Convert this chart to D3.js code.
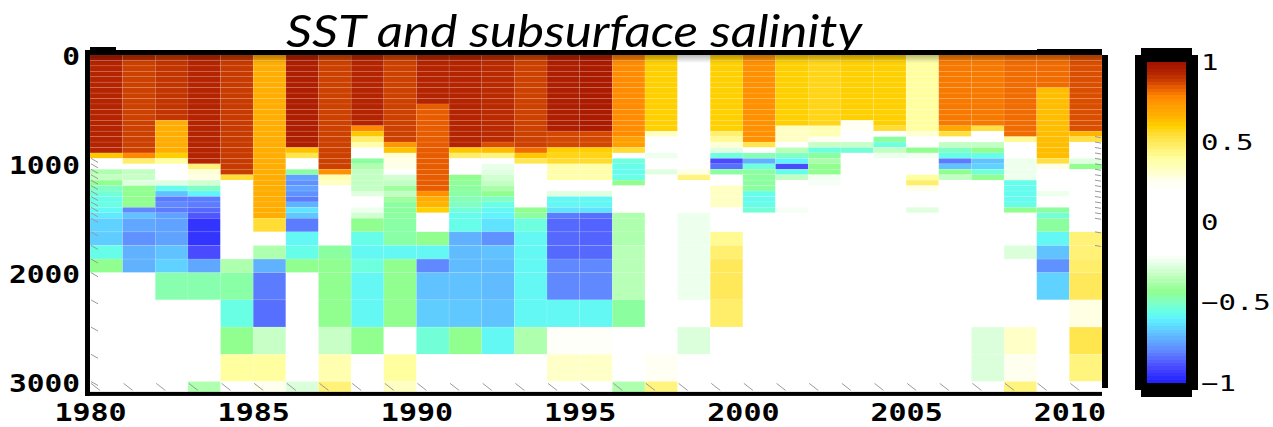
<!DOCTYPE html>
<html>
<head>
<meta charset="utf-8">
<script src="https://cdn.jsdelivr.net/npm/d3@7"></script>
<style>
  html, body { margin: 0; background: #fff; }
  svg { display: block; }
</style>
</head>
<body>
<div id="chart"></div>
<script>
// years on x, one column each (year .. year+1)
const years = [1980, 1981, 1982, 1983, 1984, 1985, 1986, 1987, 1988, 1989, 1990,
  1991, 1992, 1993, 1994, 1995, 1996, 1997, 1998, 1999, 2000,
  2001, 2002, 2003, 2004, 2005, 2006, 2007, 2008, 2009, 2010];

// depth layer edges (m)
const depthEdges = [0, 50, 100, 150, 200, 250, 300, 350, 400, 450, 500,
  550, 600, 650, 700, 750, 800, 850, 900, 950, 1000,
  1050, 1100, 1150, 1200, 1250, 1300, 1350, 1400, 1450, 1500,
  1625, 1750, 1875, 2000, 2250, 2500, 2750, 3000, 3100];

const depthTicks = [0, 1000, 2000, 3000];
const yearTicks = [1980, 1985, 1990, 1995, 2000, 2005, 2010];
const barTicks = [1, 0.5, 0, -0.5, -1];
const title = "SST and subsurface salinity";

// one column per year, rows top -> bottom (39 layers)
const d1980 = [.97,.93,.93,.93,.93,.93,.93,.93,.93,.93,
  .93,.93,.93,.93,.93,.93,.93,.93,.62,0,
  0,-.37,-.33,-.43,-.5,-.53,-.56,-.55,-.58,-.62,
  -.66,-.67,-.56,-.43,0,0,0,0,0];
const d1981 = [.92,.88,.88,.88,.88,.88,.88,.88,.88,.88,
  .88,.88,.88,.88,.88,.88,.88,.88,.78,.48,
  0,-.33,-.32,-.27,-.43,-.43,-.43,-.43,-.8,-.69,
  -.74,-.78,-.72,-.72,0,0,0,0,0];
const d1982 = [.9,.9,.9,.9,.9,.9,.9,.9,.9,.9,
  .9,.9,.68,.68,.68,.68,.68,.68,.6,.4,
  0,0,0,-.27,-.57,-.69,-.82,-.8,-.82,-.75,
  -.75,-.75,-.69,-.66,-.47,0,0,0,0];
const d1983 = [.93,.93,.93,.93,.93,.93,.93,.93,.93,.93,
  .93,.93,.93,.93,.93,.93,.93,.93,.93,.93,
  .46,.3,.28,-.3,-.5,-.6,-.82,-.82,-.85,-.88,
  -.95,-.95,-.9,-.74,-.47,0,0,0,-.37];
const d1984 = [.9,.89,.89,.89,.89,.89,.89,.89,.89,.89,
  .89,.89,.89,.89,.89,.89,.89,.89,.89,.89,
  .89,.89,.55,0,0,0,0,0,0,0,
  0,0,0,-.37,-.46,-.55,-.43,.4,0];
const d1985 = [.7,.68,.68,.68,.68,.68,.68,.68,.68,.68,
  .68,.68,.68,.68,.68,.68,.68,.68,.68,.68,
  .68,.68,.68,.68,.68,.68,.68,.68,.68,.68,
  .55,0,-.37,-.72,-.82,-.84,-.32,.4,.26];
const d1986 = [.95,.95,.95,.95,.95,.95,.95,.95,.95,.95,
  .95,.95,.95,.95,.95,.95,.95,.63,.52,0,
  0,-.45,-.75,-.78,-.75,-.78,-.82,-.72,-.63,-.68,
  -.82,-.58,-.56,-.43,0,0,0,0,-.28];
const d1987 = [.88,.88,.88,.88,.88,.88,.88,.88,.88,.88,
  .88,.88,.88,.88,.88,.88,.88,.88,.88,.88,
  .88,.76,.37,.33,0,0,0,0,0,0,
  0,0,-.45,-.43,-.43,-.43,-.32,.37,.46];
const d1988 = [.93,.93,.93,.93,.93,.93,.93,.93,.93,.93,
  .93,.93,.93,.78,.62,.48,.38,0,0,-.45,
  -.37,-.33,-.33,-.33,-.33,-.27,0,0,-.24,-.3,
  -.43,-.56,-.58,-.54,-.58,-.58,-.43,0,0];
const d1989 = [.88,.88,.88,.88,.88,.88,.88,.88,.88,.88,
  .88,.88,.88,.88,.88,.88,.74,.63,.3,.28,
  .27,0,-.3,-.33,-.4,-.33,-.4,-.45,-.45,-.45,
  -.46,-.46,-.58,-.43,-.43,-.43,0,.4,.33];
const d1990 = [.93,.93,.93,.93,.93,.93,.93,.93,.93,.84,
  .84,.84,.84,.84,.84,.84,.84,.84,.84,.84,
  .84,.84,.84,.84,.84,.76,.68,.66,.6,0,
  0,-.43,-.58,-.8,-.69,-.67,-.53,0,0];
const d1991 = [.93,.93,.93,.93,.93,.93,.93,.93,.93,.93,
  .93,.93,.93,.93,.93,.93,.93,.62,.48,0,
  0,0,-.43,-.44,-.45,-.46,-.48,-.5,-.53,-.57,
  -.56,-.72,-.7,-.7,-.69,-.68,-.43,0,0];
const d1992 = [.92,.92,.92,.92,.92,.92,.92,.92,.92,.92,
  .92,.92,.92,.92,.92,.92,.86,.64,.45,0,
  -.25,-.27,-.3,-.33,-.38,-.43,-.5,-.55,-.58,-.6,
  -.63,-.78,-.69,-.7,-.7,-.69,-.58,0,0];
const d1993 = [.88,.88,.88,.88,.88,.88,.88,.88,.88,.88,
  .88,.88,.88,.88,.88,.88,.88,.82,.62,.52,
  0,0,0,0,0,0,0,0,-.43,-.45,
  -.54,-.58,-.58,-.58,-.58,-.58,-.37,0,0];
const d1994 = [.95,.95,.95,.95,.95,.95,.95,.95,.95,.95,
  .95,.95,.95,.95,.87,.87,.87,.6,.58,.56,
  .38,.38,.38,0,0,-.27,-.58,-.58,-.63,-.82,
  -.85,-.85,-.85,-.8,-.8,-.58,.22,.32,0];
const d1995 = [.96,.96,.96,.96,.96,.96,.96,.96,.96,.96,
  .96,.96,.96,.96,.87,.87,.87,.6,.58,.56,
  .38,.38,.38,0,0,-.27,-.58,-.58,-.63,-.84,
  -.86,-.86,-.85,-.8,-.8,-.58,.22,.32,0];
const d1996 = [.8,.77,.77,.77,.77,.77,.77,.77,.77,.77,
  .77,.77,.77,.77,.77,.72,.72,.55,0,-.54,
  -.56,-.57,-.55,-.43,0,0,0,0,0,-.37,
  -.37,-.37,-.35,-.35,-.35,-.45,0,0,-.37];
const d1997 = [.6,.6,.6,.6,.6,.6,.6,.6,.6,.6,
  .6,.6,.6,.6,.33,0,0,0,-.24,0,
  0,-.27,0,0,0,0,0,0,0,0,
  0,0,0,0,0,0,0,.25,.45];
const d1998 = [0,0,0,0,0,0,0,0,0,0,
  0,0,0,0,0,0,0,0,0,0,
  0,.28,.45,0,0,0,0,0,0,-.24,
  -.24,-.24,-.24,-.24,-.24,0,-.28,0,0];
const d1999 = [.6,.6,.6,.6,.6,.6,.6,.6,.6,.6,
  .6,.6,.6,.6,.47,.42,.3,-.27,-.54,-.9,
  -.84,-.45,0,0,.33,.33,.33,.33,0,0,
  0,.42,.47,.5,.5,.48,0,0,0];
const d2000 = [.76,.76,.76,.76,.76,.76,.76,.76,.76,.76,
  .76,.76,.76,.76,.76,.76,.52,0,-.48,-.72,
  -.54,-.45,-.45,-.45,-.45,-.56,-.57,-.56,-.53,0,
  0,0,0,0,0,0,0,0,0];
const d2001 = [.6,.6,.6,.6,.6,.6,.6,.6,.6,.6,
  .6,.6,.6,.33,.33,.33,0,-.35,-.5,-.6,
  -.9,-.56,-.33,0,0,0,0,0,-.22,0,
  0,0,0,0,0,0,0,0,0];
const d2002 = [.58,.58,.58,.58,.58,.58,.58,.58,.58,.58,
  .58,.58,.58,.36,.36,.26,-.32,-.54,-.45,-.38,
  -.43,-.43,-.23,-.22,0,0,0,0,0,0,
  0,0,0,0,0,0,0,0,0];
const d2003 = [.6,.6,.6,.6,.6,.6,.6,.6,.6,.6,
  .6,.6,.25,.25,0,0,-.32,-.53,0,0,
  0,0,0,0,0,0,0,0,0,0,
  0,0,0,0,0,0,0,0,0];
const d2004 = [.6,.6,.6,.6,.6,.6,.6,.6,.6,.6,
  .6,.6,.6,.55,0,-.45,-.54,-.33,-.24,0,
  0,0,0,0,0,0,0,0,0,0,
  0,0,0,0,0,0,0,0,0];
const d2005 = [.4,.4,.4,.4,.4,.4,.4,.4,.4,.4,
  .4,.4,.4,.4,.3,0,0,-.43,-.23,0,
  0,0,.4,.48,.27,0,0,0,-.27,0,
  0,0,0,0,0,0,0,0,0];
const d2006 = [.8,.8,.8,.8,.8,.8,.8,.8,.8,.8,
  .8,.8,.8,.7,.54,0,-.33,-.5,-.56,-.82,
  -.69,-.43,-.33,0,0,0,0,0,0,0,
  0,0,0,0,0,0,0,0,0];
const d2007 = [.8,.8,.8,.8,.8,.8,.8,.8,.8,.8,
  .8,.8,.8,.54,0,0,-.33,-.43,-.56,-.69,
  -.66,-.53,-.43,0,0,0,0,0,0,0,
  0,0,0,0,0,0,-.28,-.28,0];
const d2008 = [.82,.82,.82,.82,.82,.82,.82,.82,.82,.82,
  .82,.82,.82,.82,.82,.42,0,0,0,-.24,
  -.24,-.24,-.24,-.56,-.57,-.57,-.57,-.56,-.43,0,
  0,0,-.28,0,0,0,.32,.26,.45];
const d2009 = [.82,.82,.82,.82,.82,.82,.64,.64,.64,.64,
  .64,.64,.64,.64,.64,.64,.64,.64,.64,.54,
  .27,0,0,0,0,-.24,0,0,-.45,-.53,
  -.45,-.58,-.69,-.78,-.66,0,0,0,0];
const d2010 = [.86,.86,.86,.86,.86,.86,.86,.86,.86,.86,
  .86,.86,.86,.86,.66,.54,0,0,0,-.27,
  -.43,0,0,0,0,0,0,0,0,0,
  0,.46,.46,.48,.5,.28,.52,.45,0];

const columns = [d1980, d1981, d1982, d1983, d1984, d1985, d1986, d1987, d1988, d1989,
  d1990, d1991, d1992, d1993, d1994, d1995, d1996, d1997, d1998, d1999,
  d2000, d2001, d2002, d2003, d2004, d2005, d2006, d2007, d2008, d2009, d2010];

// colormap: white band in the middle
const cStops = [-1, -.9, -.8, -.7, -.6, -.55, -.5, -.43, -.35, -.27, -.2,
  .2, .26, .32, .4, .47, .54, .6, .66, .72, .78, .84, .88, .93, 1];
const cColors = ["#1e1eff", "#4a4aff", "#6088ff", "#60bcff", "#60f4ff", "#68ffe4", "#80ffc4",
  "#90ff90", "#b8ffb8", "#e0ffe0", "#ffffff", "#ffffff", "#fffff0", "#ffffc8", "#ffffa0",
  "#fff070", "#ffe040", "#ffd000", "#ffb400", "#ffa000", "#ff8800", "#e85c00", "#cc4000",
  "#b42400", "#a01000"];
const color = d3.scaleLinear().domain(cStops).range(cColors).clamp(true);

const W = 1273, H = 427;
const m = { l: 90, r: 1102, t: 55, b: 392.4 };
const mono = "'DejaVu Sans Mono', 'Liberation Mono', monospace";

const x = d3.scaleLinear().domain([1980, 2011]).range([m.l, m.r]);
const y = d3.scaleLinear().domain([0, 3100]).range([m.t, m.b]);

const svg = d3.select("#chart").append("svg")
  .attr("width", W).attr("height", H).attr("viewBox", `0 0 ${W} ${H}`);

const cells = [];
columns.forEach((col, i) => {
  if (col.length !== depthEdges.length - 1) console.warn("bad column", years[i], col.length);
  col.forEach((v, j) => cells.push({ year: years[i], top: depthEdges[j], bot: depthEdges[j + 1], v }));
});

svg.append("g").selectAll("rect").data(cells).join("rect")
  .attr("x", (d) => x(d.year))
  .attr("y", (d) => y(d.top))
  .attr("width", (d) => x(d.year + 1) - x(d.year))
  .attr("height", (d) => y(d.bot) - y(d.top))
  .attr("fill", (d) => color(d.v))
  .attr("stroke", "#fff").attr("stroke-opacity", .16).attr("stroke-width", .6);

// darker band along the sea surface
const defs = svg.append("defs");
const grad = defs.append("linearGradient").attr("id", "topShade")
  .attr("x1", 0).attr("x2", 0).attr("y1", 0).attr("y2", 1);
grad.append("stop").attr("offset", 0).attr("stop-color", "#000").attr("stop-opacity", .28);
grad.append("stop").attr("offset", 1).attr("stop-color", "#000").attr("stop-opacity", 0);
svg.append("rect").attr("x", m.l).attr("y", m.t).attr("width", m.r - m.l).attr("height", 8)
  .attr("fill", "url(#topShade)");

// small grey tick marks inside the frame
const minor = svg.append("g").attr("stroke", "#9a9a9a").attr("stroke-width", 1);
minor.selectAll("line.bx").data(years).join("line").attr("class", "bx")
  .attr("x1", (d) => x(d) + 1).attr("x2", (d) => x(d) + 10)
  .attr("y1", m.b - 9).attr("y2", m.b - 2);
minor.selectAll("line.ly").data(depthEdges.filter((d) => d >= 950 && d < 3100)).join("line").attr("class", "ly")
  .attr("x1", m.l + 1).attr("x2", m.l + 8)
  .attr("y1", (d) => y(d)).attr("y2", (d) => y(d) + 4);
minor.selectAll("line.ry").data(depthEdges.filter((d) => d >= 750 && d <= 1750)).join("line").attr("class", "ry")
  .attr("x1", m.r - 7).attr("x2", m.r - 1)
  .attr("y1", (d) => y(d)).attr("y2", (d) => y(d) + 1);

// heavy frame
const frame = svg.append("g").attr("fill", "#000");
frame.append("rect").attr("x", m.l - 5).attr("y", 50).attr("width", m.r - m.l + 5).attr("height", 5);
frame.append("rect").attr("x", 1037).attr("y", 49).attr("width", m.r - 1037).attr("height", 6);
frame.append("rect").attr("x", m.l - 5).attr("y", 50).attr("width", 5).attr("height", 346);
frame.append("rect").attr("x", m.l - 5).attr("y", m.b - .5).attr("width", m.r - m.l + 5).attr("height", 4);
frame.append("rect").attr("x", m.r).attr("y", m.t).attr("width", 6).attr("height", 333);
frame.append("rect").attr("x", m.l).attr("y", 47).attr("width", 26).attr("height", 3);

// axes (the tick font is drawn wide, so stretch it horizontally)
const yAxis = svg.append("g").attr("transform", `translate(${m.l},2)`)
  .call(d3.axisLeft(y).tickValues(depthTicks).tickFormat(d3.format("d")).tickSize(0).tickPadding(10));
yAxis.select(".domain").remove();
yAxis.selectAll("text")
  .attr("font-family", mono).attr("font-weight", "bold").attr("font-size", 24).attr("fill", "#000")
  .attr("x", -10 / 1.23).attr("transform", "scale(1.23,1)");

const xAxis = svg.append("g").attr("transform", `translate(0,${m.b + 3})`)
  .call(d3.axisBottom(x).tickValues(yearTicks).tickFormat(d3.format("d")).tickSize(0).tickPadding(8.5));
xAxis.select(".domain").remove();
xAxis.selectAll("text")
  .attr("font-family", mono).attr("font-weight", "bold").attr("font-size", 24).attr("fill", "#000")
  .attr("transform", "scale(1.25,1)");

// title
svg.append("text").attr("x", 574).attr("y", 47).attr("text-anchor", "middle")
  .attr("font-family", "Lato, 'Open Sans', sans-serif").attr("font-style", "italic")
  .attr("font-size", 45).attr("fill", "#000")
  .attr("textLength", 576).attr("lengthAdjust", "spacingAndGlyphs")
  .text(title);

// colour bar
const cb = { x0: 1147, x1: 1186, y0: 62, y1: 383 };
const cy = d3.scaleLinear().domain([1, -1]).range([cb.y0, cb.y1]);
const bar = svg.append("g");
bar.append("rect").attr("x", 1135).attr("y", 55).attr("width", 63).attr("height", 335).attr("fill", "#000");
bar.append("rect").attr("x", 1141).attr("y", 48).attr("width", 51).attr("height", 349).attr("fill", "#000");
const nBand = 96;
const bands = d3.range(nBand).map((k) => 1 - (k + .5) * 2 / nBand);
bar.append("g").attr("shape-rendering", "crispEdges")
  .selectAll("rect").data(bands).join("rect")
  .attr("x", cb.x0).attr("width", cb.x1 - cb.x0)
  .attr("y", (v) => cy(v + 1 / nBand))
  .attr("height", (v) => Math.min((cb.y1 - cb.y0) / nBand + 1.5, cb.y1 - cy(v + 1 / nBand)))
  .attr("fill", (v) => color(v));

const fmtBar = (v) => (v < 0 ? "\u2212" : "") + String(Math.abs(v));
const sBar = 1.38;
bar.append("g").attr("transform", `translate(1201,0) scale(${sBar},1)`)
  .selectAll("text").data(barTicks).join("text")
  .attr("x", 0).attr("y", (v) => Math.min(Math.max(cy(v), 58), 389))
  .attr("dy", "0.36em")
  .attr("font-family", mono).attr("font-size", 21).attr("fill", "#000")
  .text(fmtBar);
</script>
</body>
</html>
